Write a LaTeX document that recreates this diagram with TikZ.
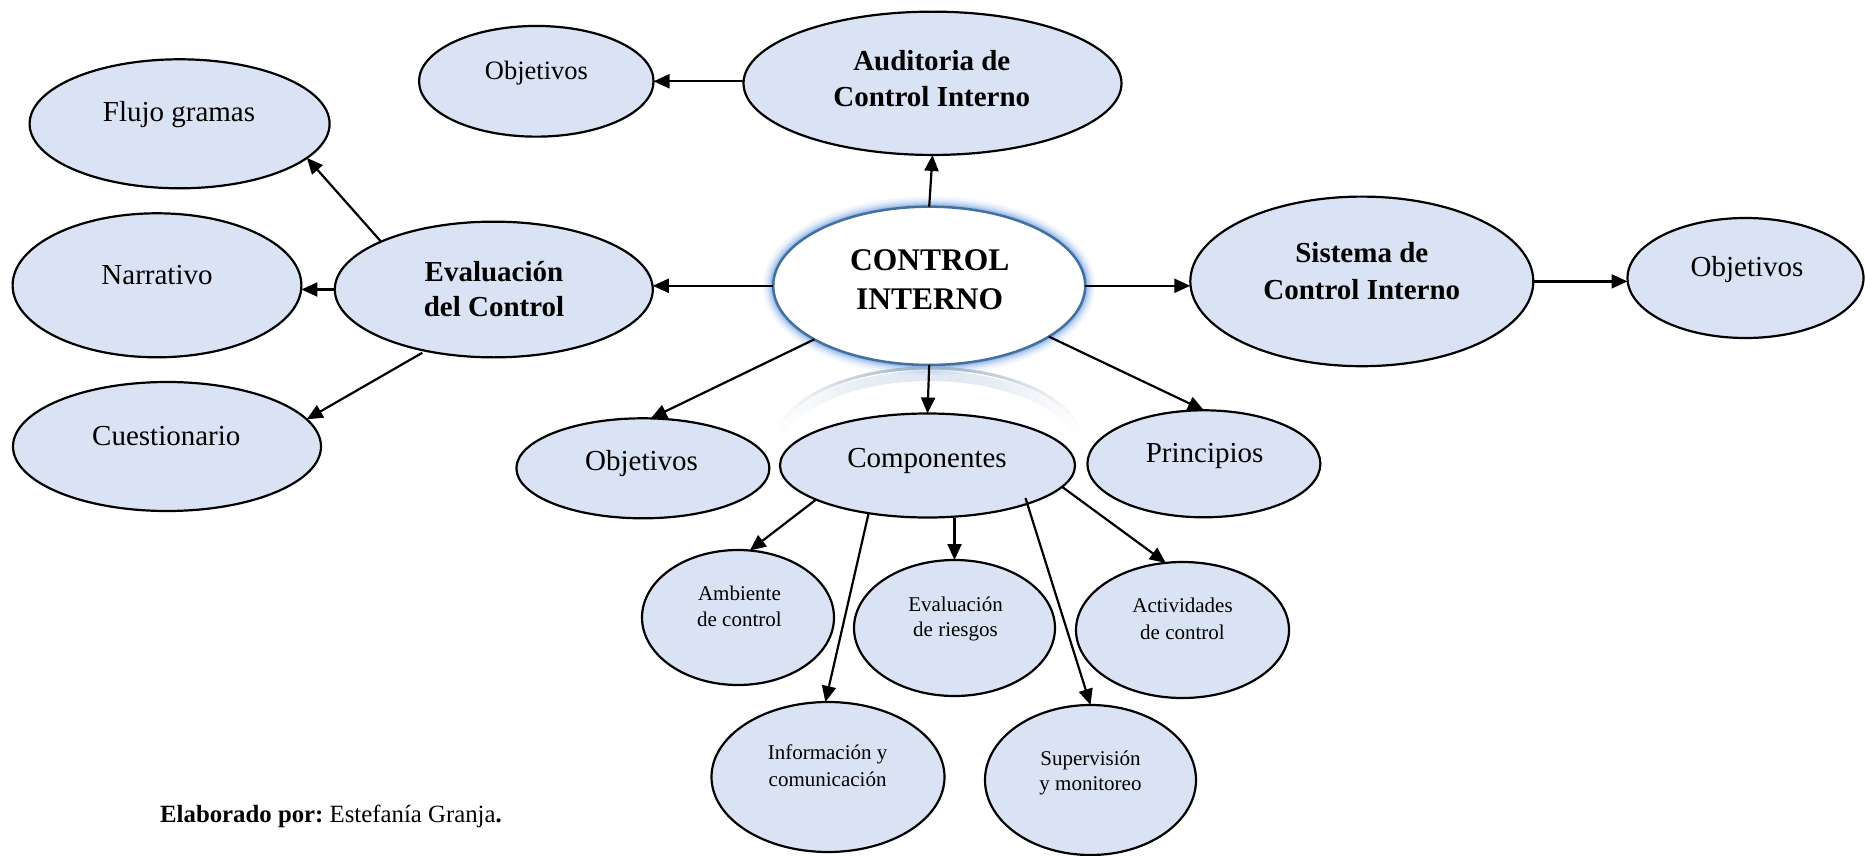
\documentclass[tikz,border=0pt]{standalone}
\usepackage{fontspec}
\setmainfont{Liberation Serif}
\usetikzlibrary{arrows.meta,shapes.geometric,calc}
\definecolor{nodefill}{HTML}{DAE3F3}
\definecolor{ciborder}{HTML}{41719C}
\definecolor{glowc}{HTML}{7FA8E6}
\definecolor{reflc}{HTML}{8EA3BA}
\begin{document}
\begin{tikzpicture}[x=1pt,y=-1pt,
  bub/.style={ellipse, draw=black, line width=2.2pt, fill=nodefill, inner sep=0pt, outer sep=0pt},
  arr/.style={line width=2.2pt, -{Triangle[length=16pt,width=14pt]}},
  lbl/.style={inner sep=0pt, anchor=base, font=\fontsize{29}{36}\selectfont},
  lblb/.style={inner sep=0pt, anchor=base, font=\fontsize{29}{36}\selectfont\bfseries},
  lbls/.style={inner sep=0pt, anchor=base, font=\fontsize{21}{26.7}\selectfont},
]
\fill[white] (0,0) rectangle (1865,856);
\useasboundingbox (0,0) rectangle (1865,856);

% glow and reflection of the central node
\coordinate (cic) at (929.2,285.8);
\foreach \w/\o in {20/0.1, 15/0.14, 11/0.2, 7.5/0.3, 4.5/0.45}
  \draw[glowc, line width=\w pt, opacity=\o] (cic) ellipse [x radius=156, y radius=79.2];
\coordinate (refc) at (929.2,448);
\foreach \t in {18,22,...,158}{
  \pgfmathsetmacro\te{\t+4}
  \pgfmathsetmacro\op{0.7*(sin(\t+2))^3}
  \draw[reflc, line width=3pt, opacity=\op] plot[variable=\u, domain=\t:\te, samples=3]
     ({929.2+156*cos(\u)},{448-80*sin(\u)});
  \pgfmathsetmacro\opb{0.25*(sin(\t+2))^3}
  \draw[reflc!60!glowc, line width=10pt, opacity=\opb] plot[variable=\u, domain=\t:\te, samples=3]
     ({929.2+156*cos(\u)},{456-80*sin(\u)});
}

% nodes
\node[bub, minimum width=234.5pt, minimum height=110.7pt] (obj1) at (536.3,81.3) {};
\node[bub, minimum width=378pt, minimum height=143.3pt] (aud) at (932.5,83.3) {};
\node[bub, minimum width=300pt, minimum height=129pt] (flu) at (179.6,123.8) {};
\node[bub, minimum width=288.8pt, minimum height=144pt] (nar) at (157,285.3) {};
\node[bub, minimum width=318pt, minimum height=135.7pt] (eva) at (493.8,289.5) {};
\node[bub, minimum width=308pt, minimum height=129pt] (cue) at (167,446.5) {};
\node[ellipse, draw=ciborder, line width=2.5pt, fill=white, inner sep=0pt, outer sep=0pt,
      minimum width=312pt, minimum height=158.3pt] (ci) at (cic) {};
\node[bub, minimum width=343pt, minimum height=169.6pt] (sis) at (1361.8,281.4) {};
\node[bub, minimum width=236pt, minimum height=120pt] (obj3) at (1745.5,278) {};
\node[bub, minimum width=253pt, minimum height=100pt] (obj2) at (642.9,468.3) {};
\node[bub, minimum width=295pt, minimum height=104pt] (comp) at (927.5,465.5) {};
\node[bub, minimum width=233pt, minimum height=107pt] (prin) at (1203.9,463.8) {};
\node[bub, minimum width=192pt, minimum height=135pt] (amb) at (738,617.5) {};
\node[bub, minimum width=201pt, minimum height=136pt] (evr) at (954.5,628) {};
\node[bub, minimum width=213pt, minimum height=136pt] (act) at (1182.5,630) {};
\node[bub, minimum width=233pt, minimum height=150pt] (inf) at (828,777) {};
\node[bub, minimum width=211pt, minimum height=150pt] (sup) at (1090.5,780) {};

% texts
\node[lbl, font=\fontsize{26.5}{32}\selectfont] (obj1t) at (536.5,80) {Objetivos};
\node[lblb] (audt) at (931.8,70.7) {\begin{tabular}[t]{@{}c@{}}Auditoria de\\Control Interno\end{tabular}};
\node[lbl] (flut) at (179,121.7) {Flujo gramas};
\node[lbl] (nart) at (157,284) {Narrativo};
\node[lblb, font=\fontsize{29}{35}\selectfont\bfseries] (evat) at (494,281.5) {\begin{tabular}[t]{@{}c@{}}Evaluación\\del Control\end{tabular}};
\node[lbl] (cuet) at (166.3,445) {Cuestionario};
\node[lblb, font=\fontsize{31.5}{38.6}\selectfont\bfseries] (cit) at (929.7,270.7) {\begin{tabular}[t]{@{}c@{}}CONTROL\\INTERNO\end{tabular}};
\node[lblb, font=\fontsize{29}{36.5}\selectfont\bfseries] (sist) at (1361.8,262.8) {\begin{tabular}[t]{@{}c@{}}Sistema de\\Control Interno\end{tabular}};
\node[lbl] (obj3t) at (1747,276) {Objetivos};
\node[lbl] (obj2t) at (641.6,470) {Objetivos};
\node[lbl] (compt) at (927,467.3) {Componentes};
\node[lbl] (prt) at (1204.6,462.5) {Principios};
\node[lbls] (ambt) at (739.4,600) {\begin{tabular}[t]{@{}c@{}}Ambiente\\de control\end{tabular}};
\node[lbls, font=\fontsize{21}{25.7}\selectfont] (evrt) at (955.5,611) {\begin{tabular}[t]{@{}c@{}}Evaluación\\de riesgos\end{tabular}};
\node[lbls] (actt) at (1182.5,612.7) {\begin{tabular}[t]{@{}c@{}}Actividades\\de control\end{tabular}};
\node[lbls, font=\fontsize{21}{27.4}\selectfont] (inft) at (827.6,759.3) {\begin{tabular}[t]{@{}c@{}}Información y\\comunicación\end{tabular}};
\node[lbls, font=\fontsize{21}{25.7}\selectfont] (supt) at (1090.5,765) {\begin{tabular}[t]{@{}c@{}}Supervisión\\y monitoreo\end{tabular}};

\node[inner sep=0pt, anchor=base west, font=\fontsize{24.8}{30}\selectfont] (credit) at (160,822.7)
  {\textbf{Elaborado por:}~Estefanía Granja\textbf{.}};

% connectors
\draw[arr] (obj1.east -| aud.west) -- (obj1.east);
\draw[arr] (ci.north) -- (aud.south);
\draw[arr] (ci.west) -- (ci.west -| eva.east);
\draw[arr] (ci.east) -- (ci.east -| sis.west);
\draw[arr] (sis.east) -- (sis.east -| obj3.west);
\draw[arr] (ci.south) -- (comp.north);
\draw[arr] (ci.205) -- (obj2.81);
\draw[arr] (ci.337) -- (prin.north);
\draw[arr] (eva.157) -- (flu.345);
\draw[arr] (eva.west) -- (eva.west -| nar.east);
\draw[arr, shorten <=4pt] (eva.222) -- (cue.11);
\draw[arr] (comp.197) -- (amb.80);
\draw[arr] (comp.219) -- (inf.92);
\draw[arr] (evr.north |- comp.south) -- (evr.north);
\draw[arr, shorten <=-6pt] (comp.339) -- (sup.north);
\draw[arr] (comp.351) -- (act.104);
\end{tikzpicture}
\end{document}
